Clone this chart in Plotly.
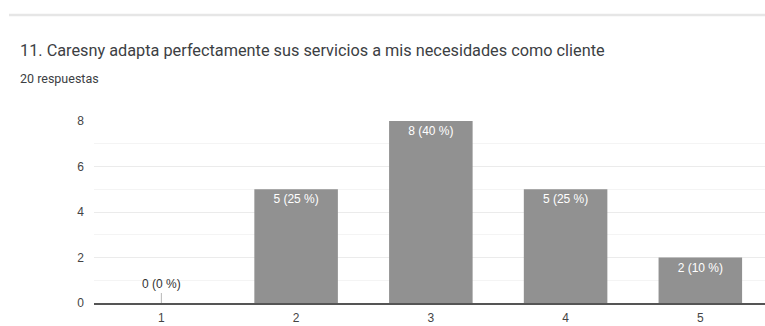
import plotly.graph_objects as go

categories = ["1", "2", "3", "4", "5"]
counts = [0, 5, 8, 5, 2]
y_ticks = [0, 2, 4, 6, 8]
title_text = "11. Caresny adapta perfectamente sus servicios a mis necesidades como cliente"
subtitle_text = "20 respuestas"

W, H = 765, 326
L, R, T, B = 94, 0, 121, 23
pw, ph = W - L - R, H - T - B

def px(x):
    return (x - L) / pw

def py(y):
    return (H - B - y) / ph

total = sum(counts)
labels = [f"{c} ({round(c / total * 100)} %)" for c in counts]
bar_text = [t if c > 0 else "" for t, c in zip(labels, counts)]
xs = [int(c) for c in categories]

CHART_FONT = "Liberation Sans, Arial"

fig = go.Figure()
fig.add_trace(go.Bar(
    x=xs, y=counts, text=bar_text, textposition="inside", insidetextanchor="end",
    textfont=dict(family=CHART_FONT, size=12, color="white"),
    marker=dict(color="#919191", line=dict(width=0)),
    hoverinfo="skip",
))

annotations = []
for x, c, t in zip(xs, counts, labels):
    if c == 0:
        annotations.append(dict(
            x=x, y=c, xref="x", yref="y", text=t, showarrow=True, arrowhead=0,
            arrowwidth=1, arrowcolor="#b8b8b8", ax=0, ay=-10, standoff=0,
            font=dict(family=CHART_FONT, size=12, color="#333333"),
            yanchor="bottom",
        ))

annotations.append(dict(
    x=px(18), y=py(50), xref="paper", yref="paper", text=title_text,
    showarrow=False, xanchor="left", yanchor="middle",
    font=dict(family="Roboto", size=16.3, color="#3c4043"),
))
annotations.append(dict(
    x=px(18), y=py(79), xref="paper", yref="paper", text=subtitle_text,
    showarrow=False, xanchor="left", yanchor="middle",
    font=dict(family="Roboto", size=12.5, color="#3c4043"),
))

fig.update_layout(
    width=W, height=H, margin=dict(l=L, r=R, t=T, b=B, pad=0),
    paper_bgcolor="white", plot_bgcolor="white",
    bargap=0.38, showlegend=False,
    annotations=annotations,
    shapes=[dict(type="line", xref="paper", yref="paper",
                 x0=px(9), x1=px(W), y0=py(15), y1=py(15),
                 line=dict(color="#e6e6e6", width=2.5))],
    xaxis=dict(range=[0.5, 5.48], tickvals=xs, ticktext=categories,
               showgrid=False, zeroline=False, showline=True,
               linecolor="#555555", linewidth=1.5,
               tickfont=dict(family=CHART_FONT, size=12, color="#444444"),
               ticklabelstandoff=3, fixedrange=True),
    yaxis=dict(range=[0, 8], tickvals=y_ticks, showgrid=True,
               gridcolor="#ebebeb", gridwidth=1, zeroline=False,
               minor=dict(dtick=1, showgrid=True, gridcolor="#f4f4f4", gridwidth=1),
               tickfont=dict(family=CHART_FONT, size=12, color="#444444"),
               ticklabelstandoff=9, fixedrange=True),
)

fig.write_html("out.html")
